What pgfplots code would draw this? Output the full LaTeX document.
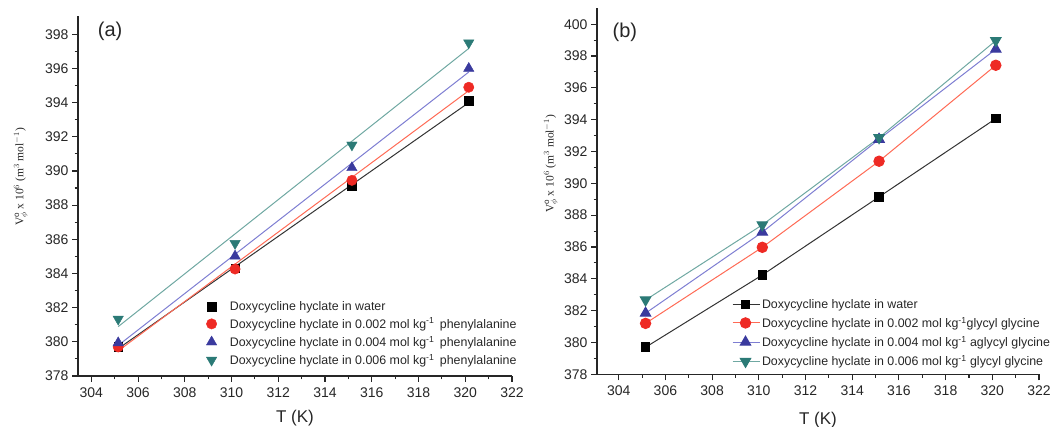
\documentclass[border=0pt]{standalone}
\usepackage{pgfplots}
\pgfplotsset{compat=1.18}
\usepackage{fontspec}
\setmainfont{Liberation Sans}
\newfontfamily\seriffont{Liberation Serif}
\definecolor{cred}{HTML}{EE2A24}
\definecolor{credl}{HTML}{FF6A55}
\definecolor{cblue}{HTML}{3A3A9E}
\definecolor{cbluel}{HTML}{7E7ED2}
\definecolor{cteal}{HTML}{2B7A76}
\definecolor{ctealll}{HTML}{6FA8A2}
\pgfplotsset{
  common/.style={
    scale only axis,
    axis x line*=bottom, axis y line*=left,
    axis line style={-, line width=1.3pt, black!85},
    tick align=outside,
    major tick length=6pt, minor tick length=3.5pt,
    every tick/.style={line width=1.1pt, black!85},
    minor x tick num=1, minor y tick num=1,
    xtick={304,306,...,322},
    /pgf/number format/assume math mode=true,
    /pgf/number format/1000 sep={},
    tick label style={font=\fontsize{14}{16}\selectfont, text=black!85},
    xticklabel style={yshift=-2pt},
    xlabel={T (K)},
    xlabel style={font=\fontsize{17}{19}\selectfont, text=black!85},
    legend style={draw=none, fill=none, font=\fontsize{12.4}{15}\selectfont, text=black!85,
      row sep=2pt, cells={anchor=west}, inner sep=0pt},
    clip=false,
  },
}
\newcommand{\ylab}{\seriffont\fontsize{11.5}{13}\selectfont V$^{\mathrm{o}}_{\phi}$ x 10$^{6}$ (m$^{3}$ mol$^{-1}$)}
\begin{document}
\begin{tikzpicture}
\useasboundingbox (0,0) rectangle (1057pt,427pt);
% ---------------- (a)
\begin{axis}[common,
  at={(78pt,51pt)}, anchor=south west,
  width=434pt, height=360pt,
  xmin=303.43, xmax=322, ymin=378, ymax=399.07,
  ytick={378,380,...,398},
  xlabel style={yshift=-6pt},
  legend style={at={([xshift=-5pt,yshift=-4pt]rel axis cs:0.3,0.225)}, anchor=north west, row sep=2.3pt},
  legend image code/.code={\path (0,0) (24pt,0); \draw[#1] plot coordinates {(8pt,0pt)};},
]
\addplot[only marks, mark=square*, mark size=4.3pt, black] coordinates {(305.15,379.7) (310.15,384.3) (315.15,389.14) (320.15,394.1)};
\addplot[only marks, mark=*, mark size=5.2pt, cred] coordinates {(305.15,379.7) (310.15,384.26) (315.15,389.45) (320.15,394.9)};
\addplot[only marks, mark=triangle*, mark size=6pt, cblue] coordinates {(305.15,379.94) (310.15,385.02) (315.15,390.19) (320.15,396.0)};
\addplot[only marks, mark=triangle*, mark options={rotate=180}, mark size=6pt, cteal] coordinates {(305.15,381.33) (310.15,385.76) (315.15,391.52) (320.15,397.5)};
\addplot[forget plot, black!80, line width=1pt] coordinates {(305.15,379.6) (320.15,394.0)};
\addplot[forget plot, credl, line width=1pt] coordinates {(305.15,379.47) (320.15,394.70)};
\addplot[forget plot, cbluel, line width=1pt] coordinates {(305.15,379.79) (320.15,395.79)};
\addplot[forget plot, ctealll, line width=1pt] coordinates {(305.15,380.89) (320.15,397.17)};
\legend{Doxycycline hyclate in water,
Doxycycline hyclate in 0.002 mol kg\textsuperscript{-1}\, phenylalanine,
Doxycycline hyclate in 0.004 mol kg\textsuperscript{-1}\, phenylalanine,
Doxycycline hyclate in 0.006 mol kg\textsuperscript{-1}\, phenylalanine}
\node[font=\fontsize{20}{22}\selectfont, text=black!85] at (rel axis cs:0.074,0.958) {(a)};
\node[rotate=90, text=black!85] at ([xshift=-57pt]rel axis cs:0,0.553) {\ylab};
\end{axis}
% ---------------- (b)
\begin{axis}[common,
  at={(597pt,52.7pt)}, anchor=south west,
  width=442pt, height=366pt,
  xmin=303.07, xmax=322, ymin=378, ymax=401,
  ytick={378,380,...,400},
  xlabel style={yshift=-10pt},
  legend style={at={([yshift=-5pt]rel axis cs:0.305,0.225)}, anchor=north west, row sep=3.4pt},
  legend image code/.code={\draw[mark repeat=2, mark phase=2, #1] plot coordinates {(0pt,0pt) (13pt,0pt) (27pt,0pt)};},
]
\addplot[black!80, line width=1pt, mark=square*, mark size=4.3pt, mark options={black, solid}] coordinates {(305.15,379.7) (310.15,384.24) (315.15,389.15) (320.15,394.07)};
\addplot[credl, line width=1pt, mark=*, mark size=5.2pt, mark options={cred}] coordinates {(305.15,381.2) (310.15,385.98) (315.15,391.39) (320.15,397.42)};
\addplot[cbluel, line width=1pt, mark=triangle*, mark size=6pt, mark options={cblue}] coordinates {(305.15,381.84) (310.15,386.93) (315.15,392.77) (320.15,398.43)};
\addplot[ctealll, line width=1pt, mark=triangle*, mark size=6pt, mark options={cteal, rotate=180}] coordinates {(305.15,382.67) (310.15,387.39) (315.15,392.87) (320.15,398.97)};
\legend{Doxycycline hyclate in water,
Doxycycline hyclate in 0.002 mol kg\textsuperscript{-1}glycyl glycine,
Doxycycline hyclate in 0.004 mol kg\textsuperscript{-1} aglycyl glycine,
Doxycycline hyclate in 0.006 mol kg\textsuperscript{-1} glycyl glycine}
\node[font=\fontsize{20}{22}\selectfont, text=black!85] at (rel axis cs:0.063,0.935) {(b)};
\node[rotate=90, text=black!85] at ([xshift=-46pt]rel axis cs:0,0.575) {\ylab};
\end{axis}
\end{tikzpicture}
\end{document}
